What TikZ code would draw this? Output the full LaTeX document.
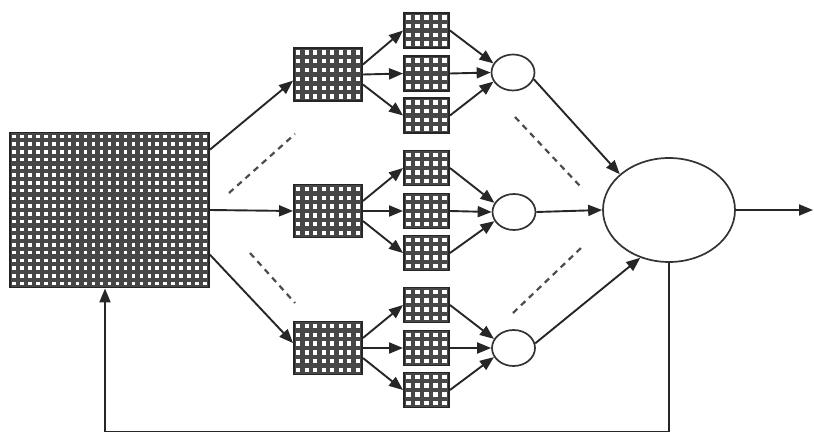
\documentclass[tikz,border=0pt]{standalone}
\usetikzlibrary{arrows.meta,calc,shapes.geometric}
\begin{document}
\begin{tikzpicture}[x=1pt,y=-1pt,
  stroke/.style={draw=black!85, line width=1.9pt},
  arr/.style={stroke, -{Triangle[length=14pt,width=11pt]}},
  dashline/.style={draw=black!70, line width=2.2pt, dash pattern=on 6pt off 5pt},
  unit/.style={ellipse, draw=black!80, line width=1.7pt, fill=white, inner sep=0pt},
  % a framed block filled with a dense mesh: width, height, columns, rows
  meshbox/.style n args={4}{draw=black!85, line width=1.9pt, fill=white,
    inner sep=0pt, minimum width=#1, minimum height=#2,
    path picture={
      \foreach \k in {0,...,#3}
        \draw[black!72, line width=4.4pt]
          ($(path picture bounding box.south west)!{\k/#3}!(path picture bounding box.south east)$) --
          ($(path picture bounding box.north west)!{\k/#3}!(path picture bounding box.north east)$);
      \foreach \k in {0,...,#4}
        \draw[black!72, line width=4.4pt]
          ($(path picture bounding box.south west)!{\k/#4}!(path picture bounding box.north west)$) --
          ($(path picture bounding box.south east)!{\k/#4}!(path picture bounding box.north east)$);
    }},
  bigmesh/.style={meshbox={199pt}{155pt}{25}{20}},
  midmesh/.style={meshbox={68pt}{53pt}{8}{6}},
  smallmesh/.style={meshbox={45pt}{35pt}{5}{4}}
]
\useasboundingbox (0,0) rectangle (814,433);

% input block
\node[bigmesh] (src) at (109.5,210) {};

% three branches: a mid block, three small blocks, a small unit
\node[midmesh] (m1) at (328,74.5) {};
\node[midmesh] (m2) at (328,211) {};
\node[midmesh] (m3) at (328,348) {};

\node[smallmesh] (a1) at (426.5,30.5) {};
\node[smallmesh] (a2) at (426.5,73.5) {};
\node[smallmesh] (a3) at (426.5,115.5) {};
\node[smallmesh] (b1) at (426.5,168) {};
\node[smallmesh] (b2) at (426.5,211) {};
\node[smallmesh] (b3) at (426.5,253) {};
\node[smallmesh] (c1) at (426.5,305) {};
\node[smallmesh] (c2) at (426.5,348) {};
\node[smallmesh] (c3) at (426.5,390) {};

\node[unit, minimum width=43pt, minimum height=36pt] (e1) at (513,72.5) {};
\node[unit, minimum width=43pt, minimum height=36pt] (e2) at (514,212) {};
\node[unit, minimum width=43pt, minimum height=36pt] (e3) at (513.5,348) {};

% output unit
\node[unit, minimum width=132pt, minimum height=104pt] (out) at (669,210) {};
\coordinate (outEnd) at (813,210);
\coordinate (fbL) at (105,431.5);

% input block to the branches
\draw[arr] (src.31) -- (m1.190);
\draw[arr] (src.east) -- (m2.west);
\draw[arr] (src.-24) -- (m3.172);

% mid blocks to small blocks
\foreach \m/\p/\q/\r in {m1/a1/a2/a3, m2/b1/b2/b3, m3/c1/c2/c3} {
  \draw[arr] (\m.16) -- (\p.west);
  \draw[arr] (\m.east) -- (\q.west);
  \draw[arr] (\m.-16) -- (\r.west);
}

% small blocks to the units
\foreach \p/\q/\r/\e in {a1/a2/a3/e1, b1/b2/b3/e2, c1/c2/c3/e3} {
  \draw[arr] (\p.east) -- (\e.155);
  \draw[arr] (\q.east) -- (\e.west);
  \draw[arr] (\r.east) -- (\e.205);
}

% units to the output unit
\draw[arr] (e1.-18) -- (out.144);
\draw[arr] (e2.east) -- (out.west);
\draw[arr] (e3.12) -- (out.239);

% output and feedback
\draw[arr] (out.east) -- (outEnd);
\draw[arr] (out.south) |- (fbL) -- (fbL |- src.south);

% dashed marks for the omitted branches
\coordinate (d1a) at (229,193); \coordinate (d1b) at (295,134);
\coordinate (d2a) at (250,253); \coordinate (d2b) at (295,303);
\coordinate (d3a) at (515,117); \coordinate (d3b) at (580,186);
\coordinate (d4a) at (513,313); \coordinate (d4b) at (581,248);
\draw[dashline] (d1a) -- (d1b);
\draw[dashline] (d2a) -- (d2b);
\draw[dashline] (d3a) -- (d3b);
\draw[dashline] (d4a) -- (d4b);
\end{tikzpicture}
\end{document}
